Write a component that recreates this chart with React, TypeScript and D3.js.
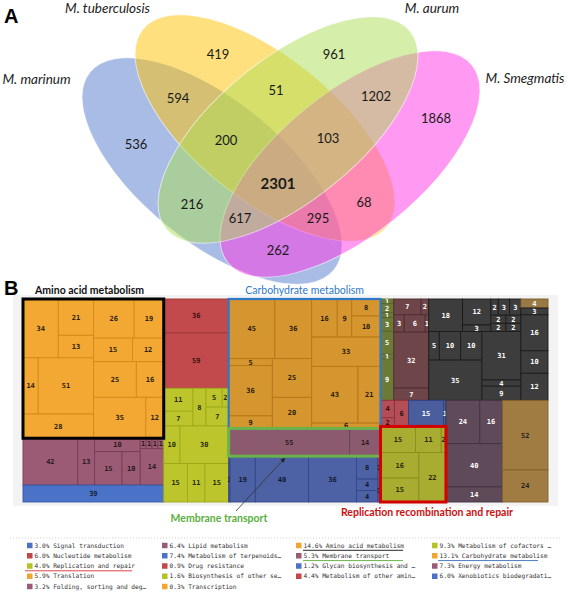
import React, { useMemo } from "react";
import * as d3 from "d3";

// ---------------- Venn data ----------------
const vennSetNames = ["M. marinum", "M. tuberculosis", "M. aurum", "M. Smegmatis"];
// membership bitmask: marinum=1, tuberculosis=2, aurum=4, smegmatis=8
const vennRegionMasks = [1, 2, 4, 8, 3, 6, 12, 5, 10, 9, 7, 14, 13, 11, 15];
const vennRegionCounts = [536, 419, 961, 1868, 594, 51, 1202, 216, 68, 262, 200, 103, 617, 295, 2301];

// ---------------- Treemap data ----------------
// "H" = children side by side, "V" = children stacked; numbers are gene counts
type Tree = any;
const aminoAcidCells: Tree = ["H",
  ["V", ["H", 34, ["V", 21, 13]], ["H", 14, 51], 28],
  ["V", ["H", 26, 19], ["H", 15, 12], ["H", 25, 16], ["H", 35, 12]]];
const lipidCells: Tree = ["H", 42, 13, ["V", 10, ["H", 15, 10]], ["V", ["H", 1, 1, 1, 1], 14]];
const signalCells: Tree = 39;
const nucleotideCells: Tree = ["V", 36, 59];
const cofactorCells: Tree = ["V", ["H", ["V", 11, 7], 8, ["V", ["H", 5, 2], 7]], ["H", 10, 30], ["H", 15, 11, 15]];
const carbohydrateCells: Tree = ["H",
  ["V", ["H", 45, 36], ["H", ["V", 5, 36, 9], ["V", 25, 20]]],
  ["V", ["H", 16, 9, ["V", 8, 10]], 33, ["H", 43, 21], 6]];
const membraneCells: Tree = ["H", 55, 14];
const xenobioticsCells: Tree = ["H", 1, 19, 40, 36, ["V", 8, 4, 4], ["V", 1, 1]];
const biosynthesisCells: Tree = ["V", 1, 2, 1, 3, 5, 1, 9];
const energyCells: Tree = ["V", ["H", 7, 2], ["H", 3, 6, 1], 32, 7];
const terpenoidCells: Tree = ["V",
  ["H", 18, ["V", 12, 3], ["V", ["H", 2, 3, 3], ["H", 2, 2], ["H", 2, 2]]],
  ["H", ["V", ["H", 5, 10, 10], 35], ["V", 31, 4, 9]]];
const terpenoidSideCells: Tree = ["V", 3, 16, 10, 12];
const transcriptionCells: Tree = 4;
const drugCells: Tree = ["H", ["V", 4, 2], 6];
const glycanCells: Tree = ["H", 15, 1];
const replicationCells: Tree = ["V", ["H", 15, 11, 2], ["H", ["V", 16, 15], 22]];
const otherAminoCells: Tree = ["V", ["H", 24, 16], 40, 14];
const foldingCells: Tree = ["V", 52, 24];

const treemapGroups: Record<string, Tree> = {
  aminoAcid: aminoAcidCells, lipid: lipidCells, signal: signalCells,
  nucleotide: nucleotideCells, cofactors: cofactorCells,
  carbohydrate: carbohydrateCells, membrane: membraneCells, xenobiotics: xenobioticsCells,
  biosynthesis: biosynthesisCells, energy: energyCells, terpenoids: terpenoidCells,
  terpenoidSide: terpenoidSideCells, transcription: transcriptionCells,
  drug: drugCells, glycan: glycanCells, replication: replicationCells,
  otherAmino: otherAminoCells, folding: foldingCells,
};

const treemapLayout: Tree = ["H",
  ["V", "aminoAcid", "lipid", "signal"],
  ["V", "nucleotide", "cofactors"],
  ["V", "carbohydrate", "membrane", "xenobiotics"],
  ["V",
    ["H", "biosynthesis", "energy", "terpenoids", ["V", "transcription", "terpenoidSide"]],
    ["H", ["V", ["H", "drug", "glycan"], "replication"], "otherAmino", "folding"]]];

// ---------------- Legend data ----------------
const legendLabels = [
  "3.0% Signal transduction", "6.0% Nucleotide metabolism", "4.0% Replication and repair", "5.9% Translation", "3.2% Folding, sorting and deg…",
  "6.4% Lipid metabolism", "7.4% Metabolism of terpenoids…", "0.9% Drug resistance", "1.6% Biosynthesis of other se…", "0.3% Transcription",
  "14.6% Amino acid metabolism", "5.3% Membrane transport", "1.2% Glycan biosynthesis and …", "4.4% Metabolism of other amin…",
  "9.3% Metabolism of cofactors …", "13.1% Carbohydrate metabolism", "7.3% Energy metabolism", "6.0% Xenobiotics biodegradati…",
];
const legendColumnSizes = [5, 5, 4, 4];
const legendSwatchKeys = [
  "blue", "red", "yg", "orange", "mauve",
  "mauve", "blue", "red", "yg", "orange",
  "orange", "mauve", "blue", "red",
  "yg", "orange", "mauve", "blue",
];

// ---------------- Styles / layout ----------------
const W = 567, H = 592;
const vennEllipses = [
  { cx: 212, cy: 171, rx: 157, ry: 71, rot: 39, color: "#5379cd" },
  { cx: 265, cy: 128, rx: 157, ry: 71, rot: 39, color: "#ffc100" },
  { cx: 288, cy: 130, rx: 157, ry: 71, rot: -39, color: "#abdd55" },
  { cx: 350, cy: 164, rx: 157, ry: 71, rot: -39, color: "#ff33e5" },
];
const vennDrawOrder = [0, 1, 3, 2];
const vennNamePos = [
  { x: 36.5, y: 84 }, { x: 107.5, y: 12.5 }, { x: 432, y: 12.5 }, { x: 525, y: 83 },
];

const groupStyles: Record<string, { fill: string; stroke: string; text: string }> = {
  aminoAcid: { fill: "#f2a833", stroke: "#d6891b", text: "#2b2110" },
  lipid: { fill: "#9b5b74", stroke: "#7a3c56", text: "#2a1a20" },
  signal: { fill: "#4a72c6", stroke: "#3558a8", text: "#16203a" },
  nucleotide: { fill: "#c24a4c", stroke: "#a03436", text: "#3a1010" },
  cofactors: { fill: "#bcc62c", stroke: "#9fa918", text: "#2a2a0a" },
  carbohydrate: { fill: "#d5952f", stroke: "#b67718", text: "#2a1a0a" },
  membrane: { fill: "#8b5a6e", stroke: "#6d4055", text: "#2a1a22" },
  xenobiotics: { fill: "#4d62a4", stroke: "#33478a", text: "#101830" },
  biosynthesis: { fill: "#6c7a38", stroke: "#556228", text: "#ffffff" },
  energy: { fill: "#6e4548", stroke: "#4f2d30", text: "#ffffff" },
  terpenoids: { fill: "#3d3d3d", stroke: "#1c1c1c", text: "#ffffff" },
  terpenoidSide: { fill: "#3d3d3d", stroke: "#1c1c1c", text: "#ffffff" },
  transcription: { fill: "#9a7a44", stroke: "#7a5c2c", text: "#ffffff" },
  drug: { fill: "#b44e56", stroke: "#8e3038", text: "#2a1010" },
  glycan: { fill: "#4a5e9e", stroke: "#2e4280", text: "#ffffff" },
  replication: { fill: "#a8ac30", stroke: "#8a8e1a", text: "#2a2a0a" },
  otherAmino: { fill: "#5f4a5a", stroke: "#433240", text: "#ffffff" },
  folding: { fill: "#a07c42", stroke: "#80602a", text: "#222222" },
};
const highlightBoxes = [
  { group: "aminoAcid", color: "#000000", width: 3 },
  { group: "carbohydrate", color: "#2f78c8", width: 2.2 },
  { group: "membrane", color: "#6cb24a", width: 3 },
  { group: "replication", color: "#d40000", width: 3 },
];
const legendColors: Record<string, string> = {
  blue: "#4a72c6", red: "#c0474a", yg: "#b3c226", orange: "#f2a532", mauve: "#9b5b77",
};
const legendUnderlines: Record<number, { color: string; dx: number; len: number }> = {
  2: { color: "#e0303a", dx: -2, len: 107 },
  10: { color: "#111111", dx: 7, len: 100 },
  11: { color: "#5cb040", dx: 7, len: 100 },
  15: { color: "#3a70c0", dx: 6, len: 100 },
};

function buildTree(t: Tree, group: string): any {
  if (typeof t === "number") return { value: t, group };
  if (typeof t === "string") return { ...buildTree(treemapGroups[t], t), groupKey: t };
  const [dir, ...kids] = t;
  return { dir, group, children: kids.map((k: Tree) => buildTree(k, group)) };
}

function insideEllipse(e: any, x: number, y: number) {
  const r = (e.rot * Math.PI) / 180;
  const dx = x - e.cx, dy = y - e.cy;
  const u = dx * Math.cos(r) + dy * Math.sin(r);
  const v = -dx * Math.sin(r) + dy * Math.cos(r);
  return (u / e.rx) ** 2 + (v / e.ry) ** 2 <= 1;
}

// label of each Venn region: the point of the region farthest from every ellipse border
function computeVennLabelPositions() {
  const border = vennEllipses.map((e) => {
    const r = (e.rot * Math.PI) / 180, c = Math.cos(r), s = Math.sin(r);
    return d3.range(240).map((i) => {
      const t = (i / 240) * 2 * Math.PI;
      const u = e.rx * Math.cos(t), v = e.ry * Math.sin(t);
      return [e.cx + u * c - v * s, e.cy + u * s + v * c];
    });
  });
  const best = new Map<number, { d: number; x: number; y: number }>();
  for (let y = 0; y < 300; y += 2) {
    for (let x = 0; x < W; x += 2) {
      let code = 0;
      vennEllipses.forEach((e, i) => { if (insideEllipse(e, x, y)) code |= 1 << i; });
      if (!code) continue;
      let dmin = Infinity;
      for (const pts of border) for (const p of pts) {
        const dx = p[0] - x, dy = p[1] - y;
        const d = dx * dx + dy * dy;
        if (d < dmin) dmin = d;
      }
      const b = best.get(code);
      if (!b || dmin > b.d) best.set(code, { d: dmin, x, y });
    }
  }
  return best;
}

export default function App() {
  const labelPos = useMemo(() => computeVennLabelPositions(), []);

  const tm = useMemo(() => {
    const root = d3.hierarchy(buildTree(treemapLayout, "root")).sum((d: any) => d.value || 0);
    d3.treemap<any>()
      .size([1, 1])
      .round(false)
      .tile((node: any, x0, y0, x1, y1) =>
        (node.data.dir === "H" ? d3.treemapDice : d3.treemapSlice)(node, x0, y0, x1, y1))(root);
    return root as any;
  }, []);

  const xs = d3.scaleLinear().domain([0, 1]).range([23, 548]);
  const ys = d3.scaleLinear().domain([0, 1]).range([299, 502]);
  const leaves = tm.leaves();
  const groupNode = (g: string) => tm.descendants().find((n: any) => n.data.groupKey === g);
  const mem = groupNode("membrane");
  const arrowHead = { x: xs(mem.x0 + (mem.x1 - mem.x0) * 0.37), y: ys(mem.y1) + 2 };

  const legendRows = d3.range(5).map((i) => 545.5 + i * 10.25);
  const legendCols = [27, 162, 296, 432];
  let idx = 0;
  const legendItems: any[] = [];
  legendColumnSizes.forEach((n, c) => {
    for (let r = 0; r < n; r++) {
      legendItems.push({ i: idx, x: legendCols[c], y: legendRows[r] });
      idx++;
    }
  });

  return (
    <svg width={W} height={H} style={{ position: "absolute", left: 0, top: 0, background: "#fff" }}
      xmlns="http://www.w3.org/2000/svg">
      <defs>
        <marker id="ah" viewBox="0 0 10 10" refX="9" refY="5" markerWidth="6" markerHeight="6" orient="auto">
          <path d="M0,0 L10,5 L0,10 z" fill="#222" />
        </marker>
      </defs>
      <rect width={W} height={H} fill="#fff" />
      {/* Panel A */}
      <text x={4} y={22.5} fontFamily="Liberation Sans, Arial" fontWeight="bold" fontSize={20}>A</text>
      {vennDrawOrder.map((i) => {
        const e = vennEllipses[i];
        return (
          <ellipse key={i} cx={e.cx} cy={e.cy} rx={e.rx} ry={e.ry}
            transform={`rotate(${e.rot} ${e.cx} ${e.cy})`}
            fill={e.color} fillOpacity={0.5} stroke="#ffffff" strokeOpacity={0.6} strokeWidth={1} />
        );
      })}
      {vennSetNames.map((n, i) => (
        <text key={n} x={vennNamePos[i].x} y={vennNamePos[i].y} textAnchor="middle"
          fontFamily="Lato" fontStyle="italic" fontSize={13.5} fill="#222">{n}</text>
      ))}
      {vennRegionMasks.map((m, i) => {
        const p = labelPos.get(m);
        if (!p) return null;
        const big = m === 15;
        return (
          <text key={m} x={p.x} y={p.y} dy="0.35em" textAnchor="middle" fontFamily="Lato"
            fontWeight={big ? "bold" : "normal"} fontSize={big ? 15 : 13} fill="#1a1a1a">
            {vennRegionCounts[i]}
          </text>
        );
      })}

      {/* Panel B */}
      <text x={4} y={295} fontFamily="Liberation Sans, Arial" fontWeight="bold" fontSize={20}>B</text>
      <rect x={13} y={295} width={545} height={211} fill="#f3f3f3" />
      {leaves.map((l: any, i: number) => {
        const st = groupStyles[l.data.group];
        const x0 = xs(l.x0), x1 = xs(l.x1), y0 = ys(l.y0), y1 = ys(l.y1);
        return (
          <g key={i}>
            <rect x={x0} y={y0} width={x1 - x0} height={y1 - y0} fill={st.fill} stroke={st.stroke} strokeWidth={0.9} />
            <text x={(x0 + x1) / 2} y={(y0 + y1) / 2} dy="0.35em" textAnchor="middle"
              fontFamily="DejaVu Sans Mono" fontWeight="bold" fontSize={7} fill={st.text}>{l.data.value}</text>
          </g>
        );
      })}
      {highlightBoxes.map((h) => {
        const n = groupNode(h.group);
        return (
          <rect key={h.group} x={xs(n.x0)} y={ys(n.y0)} width={xs(n.x1) - xs(n.x0)} height={ys(n.y1) - ys(n.y0)}
            fill="none" stroke={h.color} strokeWidth={h.width} />
        );
      })}
      <text x={xs(groupNode("aminoAcid").x0) + 12} y={294} fontFamily="Lato" fontWeight="bold" fontSize={10.5} fill="#111">Amino acid metabolism</text>
      <text x={(xs(groupNode("carbohydrate").x0) + xs(groupNode("carbohydrate").x1)) / 2} y={294} textAnchor="middle"
        fontFamily="Lato" fontSize={10.5} fill="#2f78c8">Carbohydrate metabolism</text>
      <line x1={236} y1={511} x2={arrowHead.x} y2={arrowHead.y} stroke="#333" strokeWidth={0.8} markerEnd="url(#ah)" />
      <text x={219} y={522} textAnchor="middle" fontFamily="Lato" fontWeight="bold" fontSize={10.5} fill="#5cb040">Membrane transport</text>
      <text x={427} y={516} textAnchor="middle" fontFamily="Lato" fontWeight="bold" fontSize={10.5} fill="#cc1010">Replication recombination and repair</text>

      {/* Legend */}
      <line x1={10} x2={560} y1={538} y2={538} stroke="#c8c8c8" strokeWidth={0.8} strokeDasharray="1 2" />
      {legendItems.map((it) => {
        const label = legendLabels[it.i];
        const ul = legendUnderlines[it.i];
        return (
          <g key={it.i}>
            <rect x={it.x} y={it.y - 2.75} width={5.5} height={5.5} fill={legendColors[legendSwatchKeys[it.i]]} />
            <text x={it.x + 7.5} y={it.y} dy="0.35em" fontFamily="DejaVu Sans Mono" fontSize={6.2} fill="#333">{label}</text>
            {ul && <line x1={it.x + ul.dx} x2={it.x + ul.dx + ul.len} y1={it.y + 4.8} y2={it.y + 4.8} stroke={ul.color} strokeWidth={0.9} />}
          </g>
        );
      })}
    </svg>
  );
}
